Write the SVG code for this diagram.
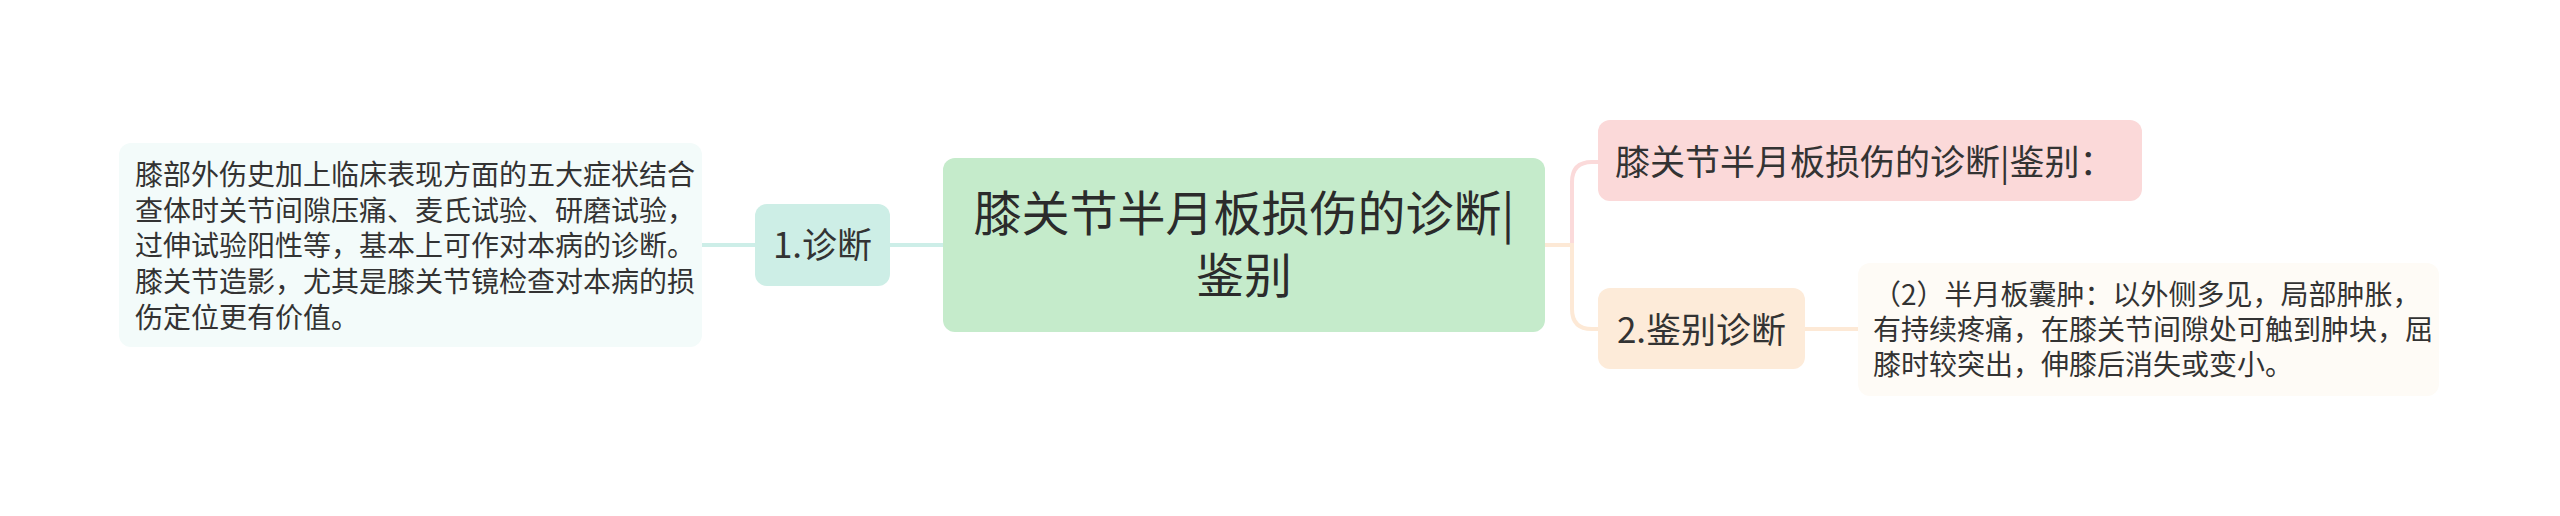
<svg xmlns="http://www.w3.org/2000/svg" width="2560" height="516" viewBox="0 0 2560 516">
<style>
text{font-family:"Noto Sans CJK SC","Noto Sans",sans-serif;fill:#333333}
.t28{font-size:28px}
.t35{font-size:35px}
.t48{font-size:48px;fill:#2b2b2b}
.c{stroke-width:4;fill:none;stroke-linecap:butt}
</style>
<rect width="2560" height="516" fill="#ffffff"/>
<g id="connectors">
<path class="c" stroke="#cdeee8" d="M702,245 H755"/>
<path class="c" stroke="#cdeee8" d="M890,245 H943"/>
<path class="c" stroke="#fbdada" d="M1545,245 H1572 V182 Q1572,162 1592,162 H1598"/>
<path class="c" stroke="#fde9d6" d="M1545,245 H1572 V309 Q1572,329 1592,329 H1598"/>
<path class="c" stroke="#fde9d6" d="M1805,329 H1858"/>
</g>
<g id="root">
<rect x="943" y="158" width="602" height="174" rx="12" fill="#c5ebcb"/>
<text class="t48" text-anchor="middle"><tspan x="1244" y="231">膝关节半月板损伤的诊断|</tspan><tspan x="1244" y="293">鉴别</tspan></text>
</g>
<g id="n-diag">
<rect x="755" y="204" width="135" height="82" rx="12" fill="#cdeee6"/>
<text class="t35" x="822.5" y="258" text-anchor="middle">1.诊断</text>
</g>
<g id="n-diag-detail">
<rect x="119" y="143" width="583" height="204" rx="12" fill="#f3fbfa"/>
<text class="t28"><tspan x="135" y="185">膝部外伤史加上临床表现方面的五大症状结合</tspan><tspan x="135" y="221">查体时关节间隙压痛、麦氏试验、研磨试验，</tspan><tspan x="135" y="256">过伸试验阳性等，基本上可作对本病的诊断。</tspan><tspan x="135" y="292">膝关节造影，尤其是膝关节镜检查对本病的损</tspan><tspan x="135" y="328">伤定位更有价值。</tspan></text>
</g>
<g id="n-title2">
<rect x="1598" y="120" width="544" height="81" rx="12" fill="#fbd9d9"/>
<text class="t35" x="1615" y="175">膝关节半月板损伤的诊断|鉴别：</text>
</g>
<g id="n-diff">
<rect x="1598" y="288" width="207" height="81" rx="12" fill="#fdebd9"/>
<text class="t35" x="1701.5" y="343" text-anchor="middle">2.鉴别诊断</text>
</g>
<g id="n-diff-detail">
<rect x="1858" y="263" width="581" height="133" rx="12" fill="#fefbf6"/>
<text class="t28"><tspan x="1873" y="305">（2）半月板囊肿：以外侧多见，局部肿胀，</tspan><tspan x="1873" y="340">有持续疼痛，在膝关节间隙处可触到肿块，屈</tspan><tspan x="1873" y="375">膝时较突出，伸膝后消失或变小。</tspan></text>
</g>
</svg>
